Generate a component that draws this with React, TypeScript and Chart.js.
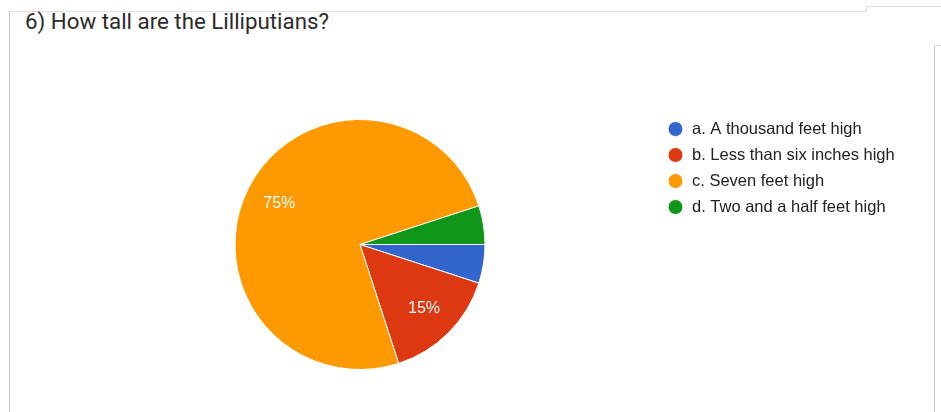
import React, { useEffect, useRef } from "react";
import { Chart, registerables } from "chart.js";

Chart.register(...registerables);

const title = "6) How tall are the Lilliputians?";
const categories = [
  "a. A thousand feet high",
  "b. Less than six inches high",
  "c. Seven feet high",
  "d. Two and a half feet high",
];
const shares = [5, 15, 75, 5];
const colors = ["#3366cc", "#dc3912", "#ff9900", "#109618"];

const LEGEND_FONT_SIZE = 16.5;
const LEGEND_FAMILY = "Arial, 'Liberation Sans', sans-serif";
const LEGEND_PAD = 9.5;
const LEGEND_BOX = 16.5;

const percentLabels = {
  id: "percentLabels",
  afterDatasetsDraw(chart: any) {
    const ctx = chart.ctx;
    const meta = chart.getDatasetMeta(0);
    const data = chart.data.datasets[0].data as number[];
    const total = data.reduce((a, b) => a + b, 0);
    ctx.save();
    ctx.fillStyle = "#ffffff";
    ctx.font = "16px Arial, 'Liberation Sans', sans-serif";
    ctx.textAlign = "center";
    ctx.textBaseline = "middle";
    meta.data.forEach((arc: any, i: number) => {
      const pct = (data[i] / total) * 100;
      if (pct < 10) return;
      const p = arc.getProps(["x", "y", "startAngle", "endAngle", "outerRadius"], true);
      const mid = (p.startAngle + p.endAngle) / 2;
      const r = p.outerRadius * 0.725;
      ctx.fillText(Math.round(pct) + "%", p.x + Math.cos(mid) * r, p.y + Math.sin(mid) * r);
    });
    ctx.restore();
  },
};

export default function App() {
  const ref = useRef<HTMLCanvasElement>(null);
  useEffect(() => {
    if (!ref.current) return;
    const mctx = document.createElement("canvas").getContext("2d")!;
    mctx.font = `${LEGEND_FONT_SIZE}px ${LEGEND_FAMILY}`;
    const maxText = Math.max(...categories.map((c) => mctx.measureText(c).width));
    const legendWidth = LEGEND_PAD + LEGEND_BOX + LEGEND_FONT_SIZE / 2 + maxText + 10;
    const chartRight = 657.75;
    const padRight = 941 - chartRight - legendWidth;

    const chart = new Chart(ref.current, {
      type: "pie",
      data: {
        labels: categories,
        datasets: [
          {
            data: shares,
            backgroundColor: colors,
            borderColor: "#ffffff",
            borderWidth: 1,
          },
        ],
      },
      options: {
        responsive: false,
        animation: false,
        rotation: 90,
        layout: { padding: { top: 111.25, left: 62.25, right: padRight, bottom: 42 } },
        plugins: {
          title: {
            display: true,
            text: "",
            padding: 0,
            font: { size: 7.75, lineHeight: 1 },
          },
          tooltip: { enabled: false },
          legend: {
            position: "right",
            align: "start",
            labels: {
              usePointStyle: true,
              pointStyle: "circle",
              boxWidth: LEGEND_BOX,
              boxHeight: 10.6,
              padding: LEGEND_PAD,
              color: "#222222",
              font: { size: LEGEND_FONT_SIZE, family: LEGEND_FAMILY },
            },
          },
        },
      },
      plugins: [percentLabels],
    });
    return () => chart.destroy();
  }, []);

  return (
    <div style={{ position: "absolute", left: 0, top: 0, width: 941, height: 412, overflow: "hidden", background: "#fff" }}>
      <div style={{ position: "absolute", left: 9, top: 11, width: 857, height: 1, background: "#e0e0e0" }} />
      <div style={{ position: "absolute", left: 866, top: 6, width: 1, height: 6, background: "#e0e0e0" }} />
      <div style={{ position: "absolute", left: 866, top: 6, width: 75, height: 1, background: "#e0e0e0" }} />
      <div style={{ position: "absolute", left: 9, top: 11, width: 1, height: 401, background: "#c8c8c8" }} />
      <div style={{ position: "absolute", left: 934, top: 45, width: 1, height: 367, background: "#c8c8c8" }} />
      <div style={{ position: "absolute", left: 934, top: 45, width: 7, height: 1, background: "#e0e0e0" }} />
      <div
        style={{
          position: "absolute",
          left: 25,
          top: 8,
          fontFamily: "Roboto, 'Open Sans', sans-serif",
          fontSize: 22.3,
          color: "#2b2b2b",
          whiteSpace: "nowrap",
        }}
      >
        {title}
      </div>
      <canvas ref={ref} width={941} height={412} style={{ position: "absolute", left: 0, top: 0, width: 941, height: 412 }} />
    </div>
  );
}
